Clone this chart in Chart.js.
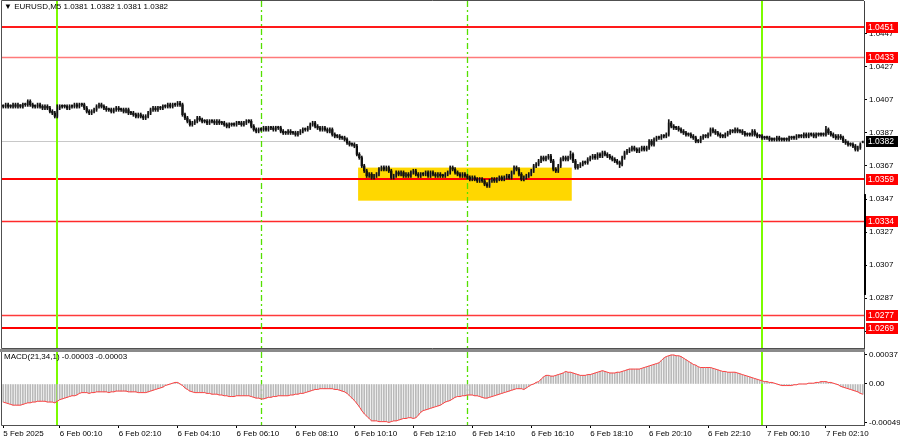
<!DOCTYPE html>
<html>
<head>
<meta charset="utf-8">
<script src="https://cdn.jsdelivr.net/npm/chart.js@4.4.1/dist/chart.umd.min.js"></script>
<style>
html, body { margin: 0; padding: 0; background: #fff; }
#wrap { position: relative; width: 900px; height: 441px; overflow: hidden; }
canvas { position: absolute; left: 0; }
#priceCanvas { top: 0; }
#macdCanvas { top: 349px; }
#sep { position: absolute; left: 0; top: 349px; width: 865px; height: 3px; background: #8a8a8a; z-index: 2; }
.lbl { position: absolute; z-index: 3; font: 8px/10px 'Liberation Sans', Arial, sans-serif; color: #000; white-space: nowrap; }
</style>
</head>
<body>
<div id="wrap">
  <canvas id="priceCanvas" width="900" height="349"></canvas>
  <canvas id="macdCanvas" width="900" height="92"></canvas>
  <div id="sep"></div>
  <div class="lbl" style="left:4px;top:2px">▼ EURUSD,M5 1.0381 1.0382 1.0381 1.0382</div>
  <div class="lbl" style="left:4px;top:352px">MACD(21,34,1) -0.00003 -0.00003</div>
</div>
<script>
// EURUSD M5 bars, 5 Feb 22:15 -> 7 Feb 03:25 (351 bars)
const opens = [
  1.0403,1.0403,1.0404,1.0403,1.0403,1.0404,1.0403,1.0404,1.0403,1.0404,
  1.0404,1.0406,1.0404,1.0403,1.0403,1.0404,1.0403,1.0402,1.0403,1.0402,
  1.0400,1.0399,1.0397,1.0402,1.0403,1.0403,1.0403,1.0402,1.0403,1.0403,
  1.0404,1.0403,1.0404,1.0404,1.0402,1.0400,1.0399,1.0400,1.0401,1.0403,
  1.0404,1.0403,1.0402,1.0401,1.0401,1.0400,1.0401,1.0402,1.0401,1.0401,
  1.0400,1.0401,1.0399,1.0399,1.0398,1.0397,1.0398,1.0397,1.0396,1.0397,
  1.0399,1.0401,1.0402,1.0401,1.0402,1.0402,1.0403,1.0403,1.0404,1.0403,
  1.0404,1.0404,1.0405,1.0404,1.0398,1.0396,1.0394,1.0392,1.0393,1.0394,
  1.0396,1.0395,1.0394,1.0394,1.0393,1.0394,1.0394,1.0393,1.0394,1.0393,
  1.0393,1.0392,1.0391,1.0392,1.0392,1.0392,1.0393,1.0393,1.0392,1.0393,
  1.0394,1.0394,1.0391,1.0389,1.0388,1.0389,1.0389,1.0390,1.0389,1.0390,
  1.0390,1.0389,1.0390,1.0390,1.0388,1.0387,1.0387,1.0388,1.0387,1.0387,
  1.0386,1.0387,1.0388,1.0389,1.0389,1.0390,1.0392,1.0393,1.0391,1.0390,
  1.0389,1.0390,1.0389,1.0388,1.0389,1.0386,1.0385,1.0385,1.0384,1.0384,
  1.0383,1.0381,1.0380,1.0380,1.0379,1.0374,1.0372,1.0367,1.0364,1.0361,
  1.0362,1.0360,1.0361,1.0362,1.0365,1.0366,1.0365,1.0366,1.0364,1.0360,
  1.0361,1.0363,1.0362,1.0363,1.0361,1.0362,1.0361,1.0363,1.0364,1.0362,
  1.0361,1.0362,1.0362,1.0363,1.0361,1.0363,1.0362,1.0361,1.0362,1.0361,
  1.0361,1.0362,1.0363,1.0366,1.0365,1.0363,1.0362,1.0361,1.0362,1.0361,
  1.0360,1.0359,1.0360,1.0359,1.0358,1.0359,1.0358,1.0356,1.0355,1.0358,
  1.0359,1.0358,1.0359,1.0360,1.0359,1.0360,1.0361,1.0360,1.0363,1.0366,
  1.0365,1.0362,1.0359,1.0360,1.0361,1.0362,1.0364,1.0367,1.0368,1.0370,
  1.0372,1.0371,1.0372,1.0373,1.0370,1.0365,1.0364,1.0367,1.0371,1.0372,
  1.0371,1.0372,1.0374,1.0370,1.0366,1.0367,1.0368,1.0369,1.0369,1.0371,
  1.0372,1.0373,1.0372,1.0374,1.0373,1.0375,1.0374,1.0373,1.0372,1.0371,
  1.0370,1.0369,1.0368,1.0372,1.0375,1.0376,1.0377,1.0378,1.0377,1.0376,
  1.0377,1.0378,1.0377,1.0378,1.0382,1.0380,1.0383,1.0384,1.0384,1.0385,
  1.0385,1.0386,1.0393,1.0391,1.0390,1.0390,1.0389,1.0388,1.0387,1.0386,
  1.0386,1.0385,1.0384,1.0382,1.0382,1.0384,1.0385,1.0385,1.0386,1.0389,
  1.0388,1.0387,1.0386,1.0385,1.0385,1.0386,1.0387,1.0388,1.0388,1.0389,
  1.0388,1.0388,1.0387,1.0386,1.0386,1.0386,1.0388,1.0386,1.0385,1.0385,
  1.0384,1.0384,1.0384,1.0383,1.0383,1.0383,1.0384,1.0383,1.0383,1.0383,
  1.0383,1.0384,1.0384,1.0384,1.0385,1.0385,1.0385,1.0386,1.0385,1.0386,
  1.0386,1.0385,1.0386,1.0386,1.0386,1.0386,1.0389,1.0387,1.0386,1.0385,
  1.0384,1.0385,1.0384,1.0382,1.0381,1.0380,1.0380,1.0379,1.0377,1.0378,
  1.0381
];
const highs = [
  1.0404,1.0405,1.0405,1.0404,1.0405,1.0405,1.0405,1.0404,1.0405,1.0405,
  1.0407,1.0407,1.0405,1.0404,1.0405,1.0405,1.0404,1.0404,1.0404,1.0403,
  1.0401,1.0400,1.0404,1.0404,1.0404,1.0404,1.0404,1.0404,1.0404,1.0405,
  1.0405,1.0405,1.0405,1.0405,1.0403,1.0401,1.0401,1.0402,1.0404,1.0405,
  1.0405,1.0404,1.0403,1.0402,1.0402,1.0402,1.0403,1.0403,1.0402,1.0402,
  1.0402,1.0402,1.0400,1.0400,1.0399,1.0399,1.0399,1.0398,1.0398,1.0400,
  1.0402,1.0403,1.0403,1.0403,1.0403,1.0404,1.0404,1.0405,1.0405,1.0405,
  1.0405,1.0406,1.0406,1.0405,1.0399,1.0397,1.0395,1.0394,1.0395,1.0397,
  1.0397,1.0396,1.0395,1.0395,1.0395,1.0395,1.0395,1.0395,1.0395,1.0394,
  1.0394,1.0393,1.0393,1.0393,1.0393,1.0394,1.0394,1.0394,1.0394,1.0395,
  1.0395,1.0395,1.0392,1.0390,1.0390,1.0390,1.0391,1.0391,1.0391,1.0391,
  1.0391,1.0391,1.0391,1.0391,1.0389,1.0388,1.0389,1.0389,1.0388,1.0388,
  1.0388,1.0389,1.0390,1.0390,1.0391,1.0393,1.0394,1.0394,1.0392,1.0391,
  1.0391,1.0391,1.0390,1.0390,1.0390,1.0387,1.0386,1.0386,1.0385,1.0385,
  1.0384,1.0382,1.0381,1.0381,1.0380,1.0375,1.0373,1.0368,1.0365,1.0363,
  1.0363,1.0362,1.0363,1.0366,1.0367,1.0367,1.0367,1.0367,1.0365,1.0362,
  1.0364,1.0364,1.0364,1.0364,1.0363,1.0363,1.0364,1.0365,1.0365,1.0363,
  1.0363,1.0363,1.0364,1.0364,1.0364,1.0364,1.0363,1.0363,1.0363,1.0362,
  1.0363,1.0364,1.0367,1.0367,1.0366,1.0364,1.0363,1.0363,1.0363,1.0362,
  1.0361,1.0361,1.0361,1.0360,1.0360,1.0360,1.0359,1.0357,1.0359,1.0360,
  1.0360,1.0360,1.0361,1.0361,1.0361,1.0362,1.0362,1.0364,1.0367,1.0367,
  1.0366,1.0363,1.0361,1.0362,1.0363,1.0365,1.0368,1.0369,1.0371,1.0373,
  1.0373,1.0373,1.0374,1.0374,1.0371,1.0366,1.0368,1.0372,1.0373,1.0373,
  1.0373,1.0376,1.0375,1.0371,1.0368,1.0369,1.0370,1.0370,1.0372,1.0373,
  1.0374,1.0374,1.0375,1.0375,1.0376,1.0376,1.0375,1.0374,1.0373,1.0372,
  1.0371,1.0370,1.0373,1.0376,1.0377,1.0378,1.0379,1.0379,1.0378,1.0378,
  1.0379,1.0379,1.0379,1.0383,1.0383,1.0384,1.0385,1.0385,1.0386,1.0386,
  1.0387,1.0395,1.0394,1.0392,1.0391,1.0391,1.0390,1.0389,1.0388,1.0387,
  1.0387,1.0386,1.0385,1.0383,1.0385,1.0386,1.0386,1.0387,1.0390,1.0390,
  1.0389,1.0388,1.0387,1.0386,1.0387,1.0388,1.0389,1.0389,1.0390,1.0390,
  1.0389,1.0389,1.0388,1.0387,1.0387,1.0389,1.0389,1.0387,1.0386,1.0386,
  1.0385,1.0385,1.0385,1.0384,1.0384,1.0385,1.0385,1.0384,1.0384,1.0384,
  1.0385,1.0385,1.0385,1.0386,1.0386,1.0386,1.0387,1.0387,1.0387,1.0387,
  1.0387,1.0387,1.0387,1.0387,1.0387,1.0391,1.0390,1.0388,1.0387,1.0386,
  1.0386,1.0386,1.0385,1.0383,1.0382,1.0381,1.0381,1.0380,1.0379,1.0381,
  1.0382
];
const lows = [
  1.0402,1.0402,1.0402,1.0402,1.0402,1.0402,1.0402,1.0402,1.0402,1.0403,
  1.0403,1.0403,1.0402,1.0402,1.0402,1.0402,1.0401,1.0401,1.0401,1.0399,
  1.0398,1.0396,1.0396,1.0401,1.0402,1.0402,1.0401,1.0401,1.0402,1.0402,
  1.0402,1.0402,1.0403,1.0401,1.0399,1.0398,1.0398,1.0399,1.0400,1.0402,
  1.0402,1.0401,1.0400,1.0400,1.0399,1.0399,1.0400,1.0400,1.0400,1.0399,
  1.0399,1.0398,1.0398,1.0397,1.0396,1.0396,1.0396,1.0395,1.0395,1.0396,
  1.0398,1.0400,1.0400,1.0400,1.0401,1.0401,1.0402,1.0402,1.0402,1.0402,
  1.0403,1.0403,1.0403,1.0397,1.0395,1.0393,1.0391,1.0391,1.0392,1.0393,
  1.0394,1.0393,1.0393,1.0392,1.0392,1.0393,1.0392,1.0392,1.0392,1.0392,
  1.0391,1.0390,1.0390,1.0391,1.0391,1.0391,1.0392,1.0391,1.0391,1.0392,
  1.0393,1.0390,1.0388,1.0387,1.0387,1.0388,1.0388,1.0388,1.0388,1.0389,
  1.0388,1.0388,1.0389,1.0387,1.0386,1.0386,1.0386,1.0386,1.0386,1.0385,
  1.0385,1.0386,1.0387,1.0388,1.0388,1.0389,1.0391,1.0390,1.0389,1.0388,
  1.0388,1.0388,1.0387,1.0387,1.0385,1.0384,1.0384,1.0383,1.0383,1.0382,
  1.0380,1.0379,1.0379,1.0378,1.0373,1.0371,1.0366,1.0363,1.0360,1.0360,
  1.0359,1.0359,1.0360,1.0361,1.0364,1.0364,1.0364,1.0363,1.0359,1.0359,
  1.0360,1.0361,1.0361,1.0360,1.0360,1.0360,1.0360,1.0362,1.0361,1.0360,
  1.0360,1.0361,1.0361,1.0360,1.0360,1.0361,1.0360,1.0360,1.0360,1.0360,
  1.0360,1.0361,1.0362,1.0364,1.0362,1.0361,1.0360,1.0360,1.0360,1.0359,
  1.0358,1.0358,1.0358,1.0357,1.0357,1.0357,1.0355,1.0354,1.0354,1.0357,
  1.0357,1.0357,1.0358,1.0358,1.0358,1.0359,1.0359,1.0359,1.0362,1.0364,
  1.0361,1.0358,1.0358,1.0359,1.0360,1.0361,1.0363,1.0366,1.0367,1.0369,
  1.0370,1.0370,1.0371,1.0369,1.0364,1.0363,1.0363,1.0366,1.0370,1.0370,
  1.0370,1.0371,1.0369,1.0365,1.0365,1.0366,1.0367,1.0368,1.0368,1.0370,
  1.0371,1.0371,1.0371,1.0372,1.0372,1.0373,1.0372,1.0371,1.0370,1.0369,
  1.0368,1.0366,1.0367,1.0371,1.0374,1.0375,1.0376,1.0376,1.0375,1.0375,
  1.0376,1.0376,1.0376,1.0377,1.0379,1.0379,1.0382,1.0383,1.0383,1.0384,
  1.0384,1.0385,1.0390,1.0389,1.0389,1.0388,1.0387,1.0386,1.0385,1.0385,
  1.0384,1.0383,1.0381,1.0381,1.0381,1.0383,1.0384,1.0384,1.0385,1.0387,
  1.0386,1.0385,1.0384,1.0384,1.0384,1.0385,1.0386,1.0387,1.0387,1.0387,
  1.0387,1.0386,1.0385,1.0385,1.0385,1.0385,1.0385,1.0384,1.0384,1.0383,
  1.0383,1.0383,1.0382,1.0382,1.0382,1.0382,1.0382,1.0382,1.0382,1.0382,
  1.0382,1.0383,1.0383,1.0383,1.0384,1.0384,1.0384,1.0384,1.0384,1.0385,
  1.0384,1.0384,1.0385,1.0385,1.0385,1.0385,1.0386,1.0385,1.0384,1.0383,
  1.0383,1.0383,1.0381,1.0380,1.0379,1.0379,1.0378,1.0376,1.0376,1.0377,
  1.0381
];
const closes = [
  1.0403,1.0404,1.0403,1.0403,1.0404,1.0403,1.0404,1.0403,1.0404,1.0404,
  1.0406,1.0404,1.0403,1.0403,1.0404,1.0403,1.0402,1.0403,1.0402,1.0400,
  1.0399,1.0397,1.0402,1.0403,1.0403,1.0403,1.0402,1.0403,1.0403,1.0404,
  1.0403,1.0404,1.0404,1.0402,1.0400,1.0399,1.0400,1.0401,1.0403,1.0404,
  1.0403,1.0402,1.0401,1.0401,1.0400,1.0401,1.0402,1.0401,1.0401,1.0400,
  1.0401,1.0399,1.0399,1.0398,1.0397,1.0398,1.0397,1.0396,1.0397,1.0399,
  1.0401,1.0402,1.0401,1.0402,1.0402,1.0403,1.0403,1.0404,1.0403,1.0404,
  1.0404,1.0405,1.0404,1.0398,1.0396,1.0394,1.0392,1.0393,1.0394,1.0396,
  1.0395,1.0394,1.0394,1.0393,1.0394,1.0394,1.0393,1.0394,1.0393,1.0393,
  1.0392,1.0391,1.0392,1.0392,1.0392,1.0393,1.0393,1.0392,1.0393,1.0394,
  1.0394,1.0391,1.0389,1.0388,1.0389,1.0389,1.0390,1.0389,1.0390,1.0390,
  1.0389,1.0390,1.0390,1.0388,1.0387,1.0387,1.0388,1.0387,1.0387,1.0386,
  1.0387,1.0388,1.0389,1.0389,1.0390,1.0392,1.0393,1.0391,1.0390,1.0389,
  1.0390,1.0389,1.0388,1.0389,1.0386,1.0385,1.0385,1.0384,1.0384,1.0383,
  1.0381,1.0380,1.0380,1.0379,1.0374,1.0372,1.0367,1.0364,1.0361,1.0362,
  1.0360,1.0361,1.0362,1.0365,1.0366,1.0365,1.0366,1.0364,1.0360,1.0361,
  1.0363,1.0362,1.0363,1.0361,1.0362,1.0361,1.0363,1.0364,1.0362,1.0361,
  1.0362,1.0362,1.0363,1.0361,1.0363,1.0362,1.0361,1.0362,1.0361,1.0361,
  1.0362,1.0363,1.0366,1.0365,1.0363,1.0362,1.0361,1.0362,1.0361,1.0360,
  1.0359,1.0360,1.0359,1.0358,1.0359,1.0358,1.0356,1.0355,1.0358,1.0359,
  1.0358,1.0359,1.0360,1.0359,1.0360,1.0361,1.0360,1.0363,1.0366,1.0365,
  1.0362,1.0359,1.0360,1.0361,1.0362,1.0364,1.0367,1.0368,1.0370,1.0372,
  1.0371,1.0372,1.0373,1.0370,1.0365,1.0364,1.0367,1.0371,1.0372,1.0371,
  1.0372,1.0374,1.0370,1.0366,1.0367,1.0368,1.0369,1.0369,1.0371,1.0372,
  1.0373,1.0372,1.0374,1.0373,1.0375,1.0374,1.0373,1.0372,1.0371,1.0370,
  1.0369,1.0368,1.0372,1.0375,1.0376,1.0377,1.0378,1.0377,1.0376,1.0377,
  1.0378,1.0377,1.0378,1.0382,1.0380,1.0383,1.0384,1.0384,1.0385,1.0385,
  1.0386,1.0393,1.0391,1.0390,1.0390,1.0389,1.0388,1.0387,1.0386,1.0386,
  1.0385,1.0384,1.0382,1.0382,1.0384,1.0385,1.0385,1.0386,1.0389,1.0388,
  1.0387,1.0386,1.0385,1.0385,1.0386,1.0387,1.0388,1.0388,1.0389,1.0388,
  1.0388,1.0387,1.0386,1.0386,1.0386,1.0388,1.0386,1.0385,1.0385,1.0384,
  1.0384,1.0384,1.0383,1.0383,1.0383,1.0384,1.0383,1.0383,1.0383,1.0383,
  1.0384,1.0384,1.0384,1.0385,1.0385,1.0385,1.0386,1.0385,1.0386,1.0386,
  1.0385,1.0386,1.0386,1.0386,1.0386,1.0389,1.0387,1.0386,1.0385,1.0384,
  1.0385,1.0384,1.0382,1.0381,1.0380,1.0380,1.0379,1.0377,1.0378,1.0380,
  1.0382
];
// MACD(21,34,1) main; signal with period 1 is the same curve
const macd = [
  -0.00023,-0.00024,-0.00025,-0.00026,-0.00027,-0.00027,-0.00027,-0.00027,-0.00026,-0.00025,
  -0.00024,-0.00024,-0.00023,-0.00023,-0.00022,-0.00022,-0.00022,-0.00022,-0.00023,-0.00023,
  -0.00023,-0.00024,-0.00022,-0.00020,-0.00019,-0.00018,-0.00017,-0.00016,-0.00015,-0.00015,
  -0.00014,-0.00012,-0.00011,-0.00011,-0.00011,-0.00012,-0.00011,-0.00011,-0.00010,-0.00010,
  -0.00010,-0.00010,-0.00010,-0.00011,-0.00010,-0.00010,-0.00009,-0.00009,-0.00009,-0.00009,
  -0.00009,-0.00010,-0.00010,-0.00010,-0.00010,-0.00011,-0.00011,-0.00011,-0.00011,-0.00010,
  -0.00009,-0.00008,-0.00007,-0.00006,-0.00005,-0.00004,-0.00002,-0.00001,0,0.00001,
  0.00002,0.00002,0,-0.00002,-0.00005,-0.00007,-0.00009,-0.00010,-0.00011,-0.00011,
  -0.00011,-0.00011,-0.00011,-0.00012,-0.00012,-0.00013,-0.00013,-0.00013,-0.00014,-0.00014,
  -0.00015,-0.00015,-0.00016,-0.00016,-0.00016,-0.00015,-0.00015,-0.00015,-0.00015,-0.00015,
  -0.00015,-0.00016,-0.00017,-0.00018,-0.00018,-0.00019,-0.00019,-0.00018,-0.00017,-0.00017,
  -0.00016,-0.00016,-0.00015,-0.00015,-0.00015,-0.00015,-0.00015,-0.00014,-0.00014,-0.00013,
  -0.00013,-0.00012,-0.00012,-0.00011,-0.00010,-0.00009,-0.00008,-0.00007,-0.00007,-0.00006,
  -0.00006,-0.00006,-0.00006,-0.00006,-0.00006,-0.00007,-0.00007,-0.00008,-0.00009,-0.00010,
  -0.00012,-0.00015,-0.00018,-0.00021,-0.00025,-0.00029,-0.00034,-0.00038,-0.00041,-0.00044,
  -0.00047,-0.00047,-0.00047,-0.00048,-0.00048,-0.00048,-0.00048,-0.00049,-0.00048,-0.00047,
  -0.00047,-0.00046,-0.00045,-0.00044,-0.00044,-0.00043,-0.00043,-0.00044,-0.00043,-0.00040,
  -0.00036,-0.00034,-0.00033,-0.00032,-0.00031,-0.00030,-0.00029,-0.00028,-0.00027,-0.00025,
  -0.00023,-0.00022,-0.00021,-0.00019,-0.00017,-0.00016,-0.00016,-0.00015,-0.00015,-0.00014,
  -0.00014,-0.00014,-0.00015,-0.00015,-0.00016,-0.00017,-0.00018,-0.00018,-0.00017,-0.00016,
  -0.00015,-0.00014,-0.00013,-0.00012,-0.00011,-0.00010,-0.00009,-0.00008,-0.00007,-0.00006,
  -0.00006,-0.00006,-0.00007,-0.00005,-0.00003,-0.00001,0,0.00002,0.00003,0.00006,
  0.00009,0.00011,0.00011,0.00010,0.00010,0.00011,0.00012,0.00013,0.00014,0.00016,
  0.00015,0.00015,0.00014,0.00013,0.00012,0.00011,0.00011,0.00011,0.00012,0.00012,
  0.00013,0.00014,0.00015,0.00016,0.00017,0.00016,0.00015,0.00014,0.00014,0.00014,
  0.00015,0.00015,0.00016,0.00017,0.00018,0.00019,0.00019,0.00019,0.00019,0.00019,
  0.00020,0.00021,0.00022,0.00023,0.00024,0.00025,0.00026,0.00027,0.00030,0.00033,
  0.00035,0.00036,0.00037,0.00037,0.00036,0.00036,0.00035,0.00033,0.00031,0.00029,
  0.00027,0.00025,0.00024,0.00022,0.00021,0.00021,0.00021,0.00021,0.00021,0.00020,
  0.00019,0.00018,0.00017,0.00016,0.00016,0.00015,0.00015,0.00015,0.00015,0.00014,
  0.00013,0.00012,0.00011,0.00010,0.00009,0.00008,0.00007,0.00006,0.00005,0.00004,
  0.00003,0.00003,0.00002,0.00002,0.00001,0,-0.00001,-0.00002,-0.00002,-0.00002,
  -0.00002,-0.00002,-0.00001,-0.00001,0,0,0,0,0.00001,0.00001,
  0.00001,0.00002,0.00002,0.00003,0.00003,0.00003,0.00002,0.00002,0.00001,0,
  -0.00001,-0.00003,-0.00004,-0.00005,-0.00006,-0.00007,-0.00008,-0.00009,-0.00010,-0.00012,
  -0.00013
];

const timeTicks = ['5 Feb 2025', '6 Feb 00:10', '6 Feb 02:10', '6 Feb 04:10', '6 Feb 06:10',
  '6 Feb 08:10', '6 Feb 10:10', '6 Feb 12:10', '6 Feb 14:10', '6 Feb 16:10', '6 Feb 18:10',
  '6 Feb 20:10', '6 Feb 22:10', '7 Feb 00:10', '7 Feb 02:10'];
const priceTicks = [1.0447, 1.0427, 1.0407, 1.0387, 1.0367, 1.0347, 1.0327, 1.0307, 1.0287, 1.0267];
const macdTicks = [0.00037, 0, -0.00049];
const macdTickText = ['0.00037', '0.00', '-0.00049'];

// drawn objects
const levels = [1.0451, 1.0433, 1.0359, 1.0334, 1.0277, 1.0269];
const levelStyle = [
  { w: 2, c: '#ff1a1a' }, { w: 1.5, c: '#ff7a7a' }, { w: 2, c: '#ff0000' },
  { w: 1.5, c: '#ff2a2a' }, { w: 1.5, c: '#ff3a3a' }, { w: 2, c: '#ff0000' }
];
const lastPrice = 1.0382;
const zoneBars = [145, 231];
const zonePrices = [1.0346, 1.0366];
const dayLineBars = [22, 309];
const dashLineBars = [105, 189];
const rangeBar = [1.0289, 1.0350];

// bar times (5 minute bars)
const barTimes = [];
const t0 = Date.UTC(2025, 1, 5, 22, 15);
for (let i = 0; i < closes.length; i++) {
  const d = new Date(t0 + i * 300000);
  barTimes.push(d.getUTCDate() + ' Feb ' + String(d.getUTCHours()).padStart(2, '0') + ':' + String(d.getUTCMinutes()).padStart(2, '0'));
}
if (![opens, highs, lows, macd].every(a => a.length === closes.length)) console.error('length mismatch');

const FONT = "'Liberation Sans', Arial, sans-serif";
Chart.defaults.font.family = FONT;
Chart.defaults.font.size = 8;
Chart.defaults.color = '#000';

function noPad(s) { s.paddingTop = 0; s.paddingBottom = 0; s.paddingLeft = 0; s.paddingRight = 0; }

function vLines(chart) {
  const { ctx, chartArea: a, scales: { x } } = chart;
  ctx.save();
  ctx.strokeStyle = '#7cfc00';
  ctx.lineWidth = 2;
  dayLineBars.forEach(b => {
    const px = Math.round(x.getPixelForValue(b));
    ctx.beginPath(); ctx.moveTo(px, a.top); ctx.lineTo(px, a.bottom); ctx.stroke();
  });
  ctx.strokeStyle = '#55e000';
  ctx.lineWidth = 1.3;
  ctx.setLineDash([6, 3, 2, 3]);
  dashLineBars.forEach(b => {
    const px = Math.round(x.getPixelForValue(b)) + 0.5;
    ctx.beginPath(); ctx.moveTo(px, a.top); ctx.lineTo(px, a.bottom); ctx.stroke();
  });
  ctx.restore();
}

function frame(chart) {
  const { ctx, chartArea: a } = chart;
  ctx.save();
  ctx.strokeStyle = '#505050';
  ctx.lineWidth = 1;
  ctx.beginPath();
  ctx.moveTo(a.right, a.top - 0.5); ctx.lineTo(a.left - 0.5, a.top - 0.5);
  ctx.lineTo(a.left - 0.5, a.bottom + 0.5); ctx.lineTo(a.right, a.bottom + 0.5);
  ctx.stroke();
  ctx.restore();
}

function tag(ctx, x0, py, text, bg) {
  const yy = Math.round(py);
  ctx.fillStyle = bg;
  ctx.fillRect(x0, yy - 5, 32, 11);
  ctx.fillStyle = '#fff';
  ctx.font = '8.5px ' + FONT;
  ctx.textAlign = 'left';
  ctx.textBaseline = 'middle';
  ctx.fillText(text, x0 + 2, yy + 0.5);
}

const priceObjects = {
  id: 'priceObjects',
  beforeDatasetsDraw(chart) {
    const { ctx, chartArea: a, scales: { x, y } } = chart;
    ctx.save();
    ctx.beginPath(); ctx.rect(a.left, a.top, a.right - a.left, a.bottom - a.top); ctx.clip();
    // zone
    const zx0 = x.getPixelForValue(zoneBars[0] - 0.5), zx1 = x.getPixelForValue(zoneBars[1] + 0.5);
    const zy0 = y.getPixelForValue(zonePrices[1]), zy1 = y.getPixelForValue(zonePrices[0]);
    ctx.fillStyle = '#ffd700';
    ctx.fillRect(zx0, zy0, zx1 - zx0, zy1 - zy0);
    // last price line
    const lp = Math.round(y.getPixelForValue(lastPrice)) + 0.5;
    ctx.strokeStyle = '#c8c8c8'; ctx.lineWidth = 1;
    ctx.beginPath(); ctx.moveTo(a.left, lp); ctx.lineTo(a.right, lp); ctx.stroke();
    // levels
    levels.forEach((l, i) => {
      const s = levelStyle[i];
      const py = Math.round(y.getPixelForValue(l)) + (s.w === 2 ? 0 : 0.5);
      ctx.strokeStyle = s.c; ctx.lineWidth = s.w;
      ctx.beginPath(); ctx.moveTo(a.left, py); ctx.lineTo(a.right, py); ctx.stroke();
    });
    ctx.restore();
    vLines(chart);
  },
  afterDraw(chart) {
    const { ctx, chartArea: a, scales: { y } } = chart;
    frame(chart);
    ctx.save();
    levels.forEach(l => tag(ctx, a.right + 2, y.getPixelForValue(l), l.toFixed(4), '#ff0000'));
    tag(ctx, a.right + 2, y.getPixelForValue(lastPrice), lastPrice.toFixed(4), '#000000');
    ctx.fillStyle = '#000';
    const r0 = y.getPixelForValue(rangeBar[1]), r1 = y.getPixelForValue(rangeBar[0]);
    ctx.fillRect(a.right, r0, 2, r1 - r0);
    ctx.restore();
  }
};

const macdObjects = {
  id: 'macdObjects',
  beforeDatasetsDraw(chart) { vLines(chart); },
  afterDraw(chart) { frame(chart); }
};

new Chart(document.getElementById('priceCanvas'), {
  type: 'bar',
  data: {
    labels: barTimes,
    datasets: [
      {
        label: 'wick',
        data: lows.map((l, i) => [l, highs[i]]),
        backgroundColor: '#111',
        barThickness: 1,
        grouped: false
      },
      {
        label: 'body',
        data: opens.map((o, i) => [o, closes[i]]),
        backgroundColor: closes.map((c, i) => c > opens[i] ? '#9a9a9a' : '#000'),
        barThickness: 1.6,
        minBarLength: 1,
        grouped: false
      }
    ]
  },
  options: {
    responsive: false,
    animation: false,
    events: [],
    layout: { padding: { left: 2, right: 0, top: 1, bottom: 1 } },
    plugins: { legend: { display: false }, tooltip: { enabled: false } },
    scales: {
      x: { display: false, offset: true },
      y: {
        position: 'right',
        min: 1.025693,
        max: 1.046672,
        afterFit: s => { s.width = 36; noPad(s); },
        afterBuildTicks: s => { s.ticks = priceTicks.map(v => ({ value: v })); },
        ticks: { callback: v => v.toFixed(4), padding: 2, font: { size: 8 } },
        grid: { drawOnChartArea: false, drawTicks: true, tickLength: 3, color: '#000' },
        border: { display: true, color: '#404040' }
      }
    }
  },
  plugins: [priceObjects]
});

new Chart(document.getElementById('macdCanvas'), {
  type: 'bar',
  data: {
    labels: barTimes,
    datasets: [
      {
        type: 'line',
        label: 'signal',
        data: macd,
        borderColor: '#ff4040',
        borderWidth: 1,
        pointRadius: 0,
        tension: 0
      },
      {
        label: 'MACD',
        data: macd,
        backgroundColor: '#b9b9b9',
        barThickness: 1
      }
    ]
  },
  options: {
    responsive: false,
    animation: false,
    events: [],
    layout: { padding: { left: 2, right: 0, top: 3, bottom: 0 } },
    plugins: { legend: { display: false }, tooltip: { enabled: false } },
    scales: {
      x: {
        offset: true,
        afterFit: s => { s.height = 16; noPad(s); },
        ticks: {
          autoSkip: false,
          maxRotation: 0,
          minRotation: 0,
          align: 'start',
          padding: 1,
          font: { size: 8 },
          callback: (v, i) => i === 0 ? timeTicks[0] : (timeTicks.includes(barTimes[i]) ? barTimes[i] : null)
        },
        grid: { drawOnChartArea: false, drawTicks: true, tickLength: 3, offset: false, color: '#000' },
        border: { display: true, color: '#404040' }
      },
      y: {
        position: 'right',
        min: -0.000523,
        max: 0.000408,
        afterFit: s => { s.width = 36; noPad(s); },
        afterBuildTicks: s => { s.ticks = macdTicks.map(v => ({ value: v })); },
        ticks: { callback: v => macdTickText[macdTicks.indexOf(v)], padding: 2, font: { size: 8 } },
        grid: { drawOnChartArea: false, drawTicks: true, tickLength: 3, color: '#000' },
        border: { display: true, color: '#404040' }
      }
    }
  },
  plugins: [macdObjects]
});
</script>
</body>
</html>
